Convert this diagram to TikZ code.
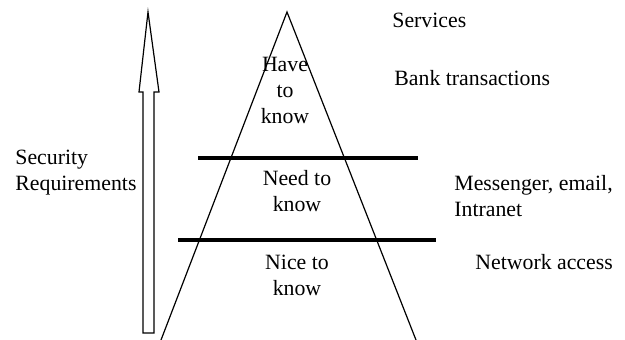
\documentclass[tikz,border=0pt]{standalone}
\usepackage{fontspec}
\setmainfont{Liberation Serif}
\usetikzlibrary{positioning}

\begin{document}
\begin{tikzpicture}[x=1pt,y=-1pt,thick,
    label/.style={inner sep=0pt,font=\fontsize{21.8}{26}\selectfont},
    level/.style={line width=3.5pt}]

    % fix the page size
    \useasboundingbox (0,0) rectangle (625,340);

    % hollow arrow on the left
    \draw [line width=1.2pt] (143,333) -- (143,92) -- (139,92) -- (148,12) -- (159,92)
        -- (154,92) -- (154,333) -- cycle;

    \node [label,align=left,anchor=west] (security) at (15,173) {Security\\Requirements};

    % pyramid
    \coordinate (apex) at (287,12);
    \coordinate (leftfoot) at (161,340);
    \coordinate (rightfoot) at (416,340);
    \draw [line width=1.2pt] (leftfoot) -- (apex) -- (rightfoot);

    % level lines
    \coordinate (upperL) at (198,158);
    \coordinate (upperR) at (418,158);
    \coordinate (lowerL) at (178,240);
    \coordinate (lowerR) at (436,240);
    \draw [level] (upperL) -- (upperR);
    \draw [level] (lowerL) -- (lowerR);

    % levels
    \node [label,align=center] (have) at (285,90) {Have\\to\\know};
    \node [label,align=center] (need) at (297,191) {Need to\\know};
    \node [label,align=center] (nice) at (297,275) {Nice to\\know};

    % services
    \node [label,anchor=west] (services) at (392,20) {Services};
    \node [label,anchor=west] (bank) at (394,78) {Bank transactions};
    \node [label,align=left,anchor=west] (messenger) at (454,196) {Messenger, email,\\Intranet};
    \node [label,anchor=west] (network) at (475,262) {Network access};

\end{tikzpicture}
\end{document}
